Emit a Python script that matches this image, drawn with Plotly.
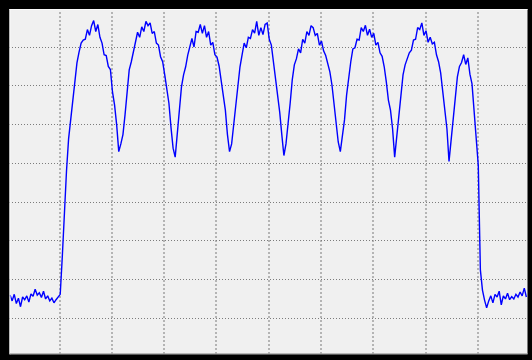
import plotly.graph_objects as go

# Signal amplitude in screen divisions, one reading per sample
volts = [
    1.60, 1.45, 1.62, 1.38, 1.52, 1.30, 1.55, 1.48, 1.58, 1.42,
    1.63, 1.57, 1.75, 1.60, 1.66, 1.54, 1.70, 1.50, 1.58, 1.45,
    1.52, 1.40, 1.48, 1.55, 1.62, 2.60, 3.90, 4.80, 5.63, 6.12,
    6.71, 7.15, 7.59, 7.87, 8.10, 8.18, 8.20, 8.45, 8.30, 8.55,
    8.68, 8.40, 8.58, 8.25, 8.10, 7.80, 7.78, 7.50, 7.42, 6.84,
    6.50, 5.99, 5.30, 5.50, 5.74, 6.25, 6.89, 7.41, 7.62, 7.87,
    8.05, 8.38, 8.25, 8.52, 8.40, 8.66, 8.55, 8.62, 8.35, 8.40,
    8.10, 8.05, 7.75, 7.62, 7.28, 6.89, 6.55, 5.92, 5.39, 5.16,
    5.74, 6.32, 6.97, 7.28, 7.49, 7.79, 8.05, 8.22, 8.00, 8.40,
    8.38, 8.58, 8.35, 8.55, 8.25, 8.40, 8.05, 8.12, 7.80, 7.74,
    7.51, 7.15, 6.81, 6.37, 5.74, 5.30, 5.50, 5.99, 6.50, 6.97,
    7.49, 7.80, 8.10, 7.98, 8.25, 8.22, 8.45, 8.36, 8.66, 8.30,
    8.50, 8.32, 8.58, 8.62, 8.20, 8.05, 7.62, 7.33, 6.89, 6.32,
    5.74, 5.20, 5.50, 5.99, 6.55, 7.15, 7.54, 7.70, 7.95, 7.85,
    8.20, 8.10, 8.40, 8.30, 8.55, 8.50, 8.30, 8.35, 8.05, 8.15,
    7.90, 7.78, 7.55, 7.36, 7.02, 6.55, 6.04, 5.55, 5.30, 5.71,
    6.12, 6.76, 7.28, 7.62, 7.95, 7.98, 8.20, 8.18, 8.50, 8.40,
    8.56, 8.30, 8.46, 8.25, 8.35, 8.05, 8.12, 7.85, 7.76, 7.49,
    7.10, 6.63, 6.37, 5.89, 5.16, 5.71, 6.37, 6.84, 7.28, 7.54,
    7.70, 7.85, 7.92, 8.18, 8.20, 8.50, 8.45, 8.62, 8.30, 8.42,
    8.12, 8.25, 8.08, 8.12, 7.80, 7.62, 7.33, 6.89, 6.37, 5.89,
    5.05, 5.63, 6.12, 6.84, 7.23, 7.50, 7.60, 7.80, 7.55, 7.72,
    7.30, 7.05, 6.37, 5.74, 4.95, 2.25, 1.73, 1.47, 1.27, 1.45,
    1.58, 1.40, 1.62, 1.55, 1.70, 1.35, 1.58, 1.50, 1.65, 1.48,
    1.56, 1.50, 1.62, 1.55, 1.68, 1.58, 1.78, 1.55,
]
sample = list(range(len(volts)))

fig = go.Figure()
fig.add_trace(go.Scatter(
    x=sample, y=volts, mode="lines",
    line=dict(color="rgb(0,0,255)", width=1.4),
    hoverinfo="skip", showlegend=False,
))

fig.update_layout(
    width=532, height=360,
    margin=dict(l=0, r=0, t=0, b=0),
    paper_bgcolor="#f0f0f0",
    plot_bgcolor="#f0f0f0",
    showlegend=False,
    xaxis=dict(
        range=[-4.815, 249.7], tick0=-1.25, dtick=25,
        showgrid=True, gridcolor="#b4b4b4", gridwidth=2, griddash="2px,2px",
        showticklabels=False, ticks="", zeroline=False, showline=False,
        fixedrange=True,
    ),
    yaxis=dict(
        range=[-0.0748, 9.2126], tick0=0, dtick=1,
        showgrid=True, gridcolor="#7c7c7c", gridwidth=1, griddash="1px,2px",
        showticklabels=False, ticks="", zeroline=False, showline=False,
        fixedrange=True,
    ),
)

W, H = 532.0, 360.0
frame = [
    (0, 0, 9.5 / W, 1),                     # left
    (0, 1 - 9.0 / H, 1, 1),                 # top
    (527.5 / W, 0, 1, 1),                   # right
    (0, 0, 1, (H - 354.3) / H),             # bottom
]
for x0, y0, x1, y1 in frame:
    fig.add_shape(type="rect", xref="paper", yref="paper",
                  x0=x0, y0=y0, x1=x1, y1=y1,
                  fillcolor="black", line=dict(width=0), layer="above")

# thin bevel lines at the inner edge of the frame
fig.add_shape(type="line", xref="paper", yref="paper",
              x0=10.0 / W, x1=10.0 / W, y0=(H - 354.3) / H, y1=1 - 9.0 / H,
              line=dict(color="#fafafa", width=1), layer="above")
fig.add_shape(type="line", xref="paper", yref="paper",
              x0=9.5 / W, x1=527.5 / W, y0=1 - 9.5 / H, y1=1 - 9.5 / H,
              line=dict(color="#fafafa", width=1), layer="above")
fig.add_shape(type="line", xref="paper", yref="paper",
              x0=9.5 / W, x1=527.5 / W, y0=(H - 353.8) / H, y1=(H - 353.8) / H,
              line=dict(color="#a0a0a0", width=1), layer="above")

fig.write_html("out.html", config={"displayModeBar": False})
